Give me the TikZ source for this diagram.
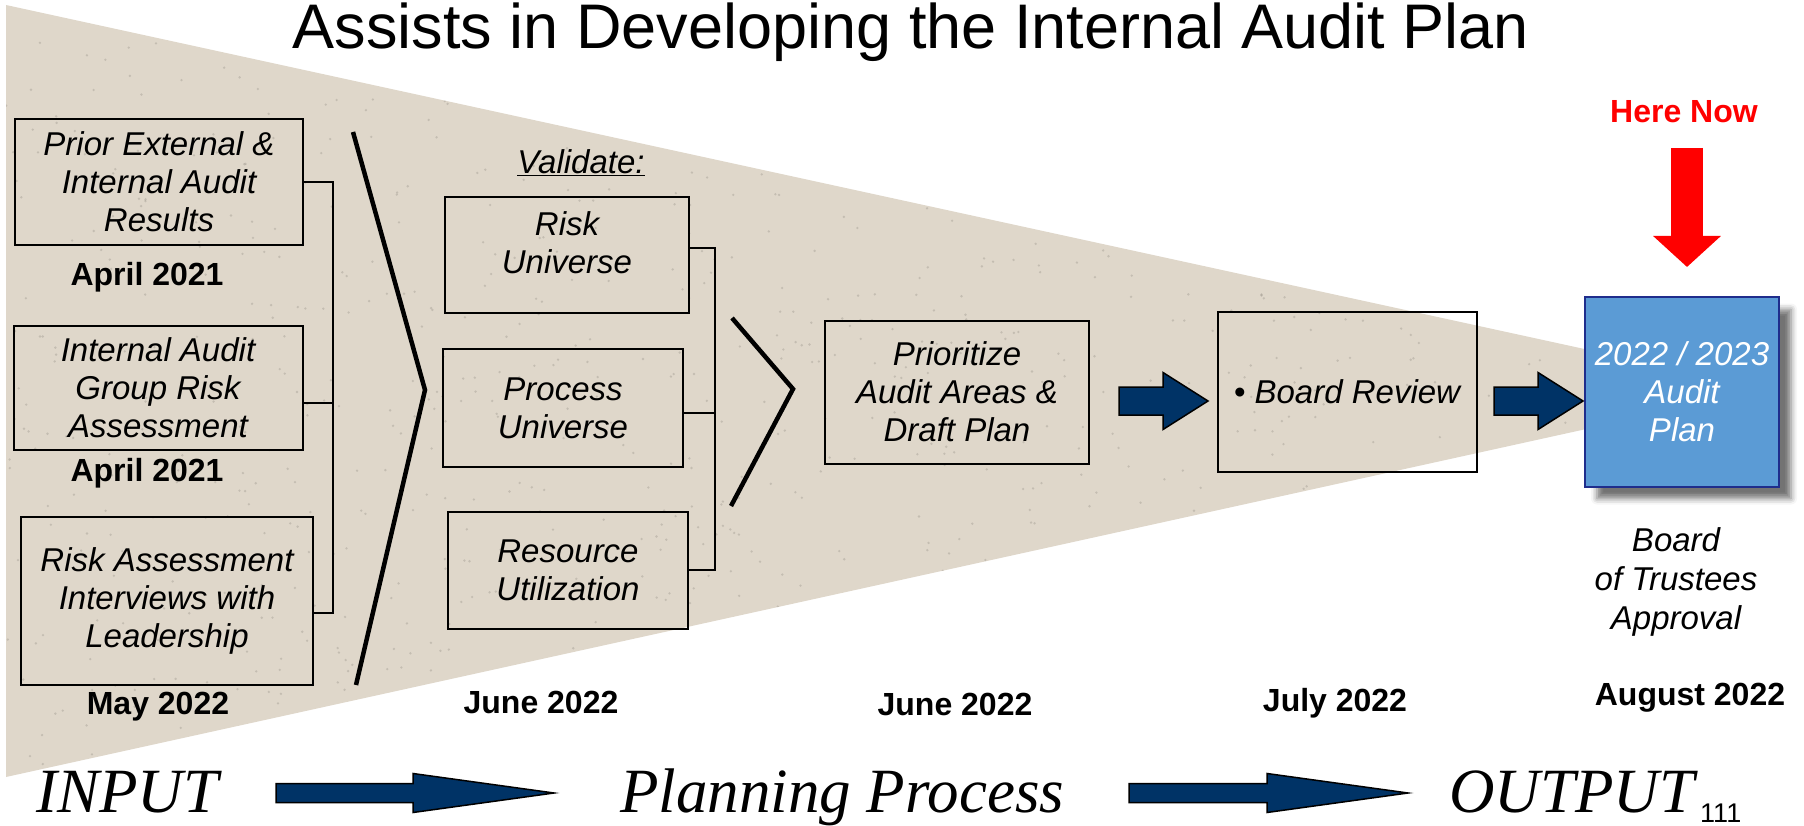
\documentclass[tikz,border=0pt]{standalone}
\usepackage{fontspec}
\setmainfont{Liberation Sans}
\newfontfamily\timesfont{Liberation Serif}
\usepackage{tikz}
\usetikzlibrary{arrows.meta,positioning,calc,shadows.blur}

\definecolor{paper}{RGB}{223,215,202}
\definecolor{navy}{RGB}{0,51,102}
\definecolor{planblue}{RGB}{91,155,213}
\definecolor{planedge}{RGB}{31,45,140}

\newcommand{\blockarrow}[5]{%
  \filldraw[arrowbody] let \p1=(#1), \p2=(#2) in
    (\x1,\y1+#3) -- (\x2-#5,\y1+#3) -- (\x2-#5,\y1+#4) -- (\x2,\y1)
    -- (\x2-#5,\y1-#4) -- (\x2-#5,\y1-#3) -- (\x1,\y1-#3) -- cycle;}

\begin{document}
\begin{tikzpicture}[x=1pt, y=-1pt,
  box/.style={draw, line width=2pt, inner sep=0pt, align=center, font=\fontsize{33}{38}\selectfont\itshape},
  date/.style={font=\fontsize{32}{36}\selectfont\bfseries},
  flow/.style={anchor=base west, inner sep=0pt, font=\fontsize{63}{68}\selectfont\timesfont\itshape},
  bracket/.style={line width=2pt},
  chevron/.style={line width=4.5pt, line join=miter},
  arrowbody/.style={fill=navy, draw=black, line width=1.5pt, line join=miter}
]
\useasboundingbox (0,0) rectangle (1804,826);

\fill[paper] (6,5) -- (1768,389) -- (6,777) -- cycle;
\begin{scope}
  \clip (6,5) -- (1768,389) -- (6,777) -- cycle;
  \pgfmathsetseed{7}
  \foreach \k in {1,...,1200} {
    \pgfmathsetmacro\px{6+rnd*1760}
    \pgfmathsetmacro\py{5+rnd*772}
    \fill[paper!60!black, opacity=.3] (\px,\py) circle (1.3pt);
  }
\end{scope}

\node[font=\fontsize{63}{70}\selectfont, anchor=base, inner sep=0pt] (title) at (911,49) {Assists in Developing the Internal Audit Plan};

\node[box, minimum width=288pt, minimum height=126pt] (prior)  at (159,182) {Prior External \&\\Internal Audit\\Results};
\node[date]                                           (apr1)   at (147,277) {April 2021};
\node[box, minimum width=289pt, minimum height=124pt] (group)  at (158,388) {Internal Audit\\Group Risk\\Assessment};
\node[date]                                           (apr2)   at (147,473) {April 2021};
\node[box, minimum width=292pt, minimum height=168pt] (interv) at (167,601) {Risk Assessment\\Interviews with\\Leadership};
\node[date]                                           (may)    at (158,707) {May 2022};

\coordinate (joinA) at (333,403);
\draw[bracket] ([yshift=-12pt]interv.east) -| (prior.east -| joinA) -- (prior.east);
\draw[bracket] ([yshift=-15pt]group.east) -- (joinA);

\draw[chevron] (353,132) -- (425,390) -- (356,685);

\node[font=\fontsize{33}{38}\selectfont\itshape] (validate) at (581,163) {\underline{Validate:}};
\node[box, minimum width=244pt, minimum height=115pt, text depth=25pt] (riskuni) at (567,255) {Risk\\Universe};
\node[box, minimum width=240pt, minimum height=118pt] (procuni) at (563,408) {Process\\Universe};
\node[box, minimum width=240pt, minimum height=117pt] (resuti)  at (568,570) {Resource\\Utilization};

\coordinate (joinB) at (715,413);
\draw[bracket] ([yshift=7pt]riskuni.east) -| (resuti.east -| joinB) -- (resuti.east);
\draw[bracket] ([yshift=-5pt]procuni.east) -- (joinB);

\draw[chevron] (732,318) -- (793,389) -- (731,506);

\node[box, minimum width=264pt, minimum height=143pt] (prio)  at (957,392)  {Prioritize\\Audit Areas \&\\Draft Plan};
\node[box, minimum width=259pt, minimum height=160pt] (board) at (1347,392) {\textbullet\ Board Review};
\node[box, draw=planedge, fill=planblue, text=white, minimum width=194pt, minimum height=189pt,
      blur shadow={shadow xshift=12pt, shadow yshift=-12pt, shadow blur radius=6pt, shadow opacity=55}] (plan) at (1682,392) {2022 / 2023\\Audit\\Plan};

\coordinate (arrA0) at (1119,401);
\coordinate (arrA1) at (1208,401);
\coordinate (arrB0) at (1494,401);
\coordinate (arrB1) at (1583,401);
\blockarrow{arrA0}{arrA1}{14pt}{28.5pt}{45pt}
\blockarrow{arrB0}{arrB1}{14pt}{28.5pt}{45pt}

\node[date, text=red] (here) at (1684,112) {Here Now};
\coordinate (now0) at (1687,148);
\coordinate (now1) at (1687,267);
\draw[red, line width=32pt, -{Triangle[length=31pt, width=66pt]}] (now0) -- (now1);

\node[font=\fontsize{33}{39}\selectfont\itshape, align=center] (approval) at (1676,582) {Board\\of Trustees\\Approval};

\node[date] (jun1) at (541,702)  {June 2022};
\node[date] (jun2) at (955,704)  {June 2022};
\node[date] (jul)  at (1335,703) {July 2022};
\node[date] (aug)  at (1690,698) {August 2022};

\node[flow] (input)    at (36,812)   {INPUT};
\node[flow] (planning) at (620,812)  {Planning Process};
\node[flow] (output)   at (1449,812) {OUTPUT};
\node[anchor=base west, inner sep=0pt, font=\fontsize{27}{30}\selectfont] (pageno) at (1700,822) {111};

\coordinate (flowA0) at (276,793);
\coordinate (flowA1) at (554,793);
\coordinate (flowB0) at (1129,793);
\coordinate (flowB1) at (1408,793);
\blockarrow{flowA0}{flowA1}{9.5pt}{19.5pt}{141pt}
\blockarrow{flowB0}{flowB1}{9.5pt}{19.5pt}{141pt}
\end{tikzpicture}
\end{document}
